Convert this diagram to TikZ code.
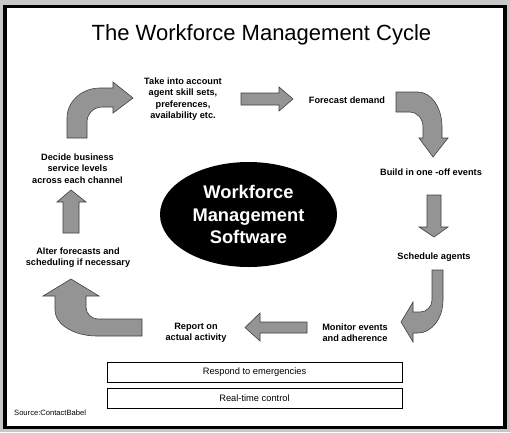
\documentclass[tikz,border=0pt]{standalone}
\usepackage{fontspec}
\setmainfont{Liberation Sans}
\usetikzlibrary{shapes.geometric}
\tikzset{
  x=1pt,y=1pt,
  arrowshape/.style={fill=black!42, draw=black!75, line width=0.6pt, line join=miter},
  lbl/.style={font=\fontsize{9.2}{11.3}\selectfont\bfseries, align=center, inner sep=0pt, text=black},
  barbox/.style={draw=black, line width=0.8pt, fill=white, minimum width=295pt, minimum height=20pt, inner sep=0pt, font=\fontsize{9.3}{11}\selectfont},
  hubshape/.style={ellipse, fill=black, minimum width=177pt, minimum height=105pt, inner sep=0pt, text=white, align=center, font=\fontsize{18.3}{22.5}\selectfont\bfseries},
}
\begin{document}
\begin{tikzpicture}
\useasboundingbox (0,0) rectangle (510,-432);
\fill[black!22] (0,0) rectangle (510,-432);
\draw[line width=3.5pt, fill=white] (5,-6.5) rectangle (505,-427.5);

\node[font=\fontsize{22}{26}\selectfont, inner sep=0pt] (title) at (261.5,-35) {The Workforce Management Cycle};

% centre ellipse
\node[hubshape] (hub) at (248.5,-214.5) {Workforce\\Management\\Software};

% labels
\node[lbl] (take) at (183,-99) {Take into account\\agent skill sets,\\preferences,\\availability etc.};
\node[lbl] (forecast) at (347,-100) {Forecast demand};
\node[lbl] (build) at (431,-172) {Build in one -off events};
\node[lbl] (schedule) at (434,-257) {Schedule agents};
\node[lbl] (monitor) at (355,-332.5) {Monitor events\\and adherence};
\node[lbl] (report) at (196,-332.5) {Report on\\actual activity};
\node[lbl] (alter) at (78,-257.5) {Alter forecasts and\\scheduling if necessary};
\node[lbl] (decide) at (77.5,-168.5) {Decide business\\service levels\\across each channel};

% arrow 1: bent up then right
\draw[arrowshape] (67,-138) -- (67,-118) arc[start angle=180, end angle=90, x radius=33, y radius=30]
  -- (113,-88) -- (113,-82) -- (133,-98) -- (113,-113) -- (113,-107) -- (102,-107)
  arc[start angle=90, end angle=180, x radius=15, y radius=15] -- (87,-138) -- cycle;

% arrow 2: straight right
\draw[arrowshape] (241,-93) -- (279,-93) -- (279,-87) -- (293,-99) -- (279,-111) -- (279,-105) -- (241,-105) -- cycle;

% arrow 3: right then bent down
\draw[arrowshape] (396,-92) -- (418,-92) arc[start angle=90, end angle=0, x radius=24, y radius=35]
  -- (442,-138) -- (448,-138) -- (433,-157) -- (419,-138) -- (423,-138) -- (423,-127)
  arc[start angle=0, end angle=90, x radius=13, y radius=15] -- (396,-112) -- cycle;

% arrow 4: straight down
\draw[arrowshape] (427,-195) -- (441,-195) -- (441,-227) -- (448,-227) -- (434,-237) -- (419,-227) -- (427,-227) -- cycle;

% arrow 5: down then bent left
\draw[arrowshape] (432,-270) -- (443,-270) -- (443,-300) arc[start angle=0, end angle=-90, x radius=25, y radius=33]
  -- (413,-333) -- (413,-342) -- (401,-322) -- (413,-302) -- (413,-312) -- (420,-312)
  arc[start angle=-90, end angle=0, x radius=12, y radius=12] -- cycle;

% arrow 6: straight left
\draw[arrowshape] (307,-322) -- (260,-322) -- (260,-313) -- (245,-327.5) -- (260,-341) -- (260,-333) -- (307,-333) -- cycle;

% arrow 7: left then bent up
\draw[arrowshape] (142,-319) -- (142,-336) -- (97,-336) arc[start angle=270, end angle=180, x radius=42, y radius=26]
  -- (55,-296) -- (43,-296) -- (71,-279) -- (99,-296) -- (86,-296) -- (86,-307)
  arc[start angle=180, end angle=270, x radius=12, y radius=12] -- cycle;

% arrow 8: straight up
\draw[arrowshape] (63,-233) -- (63,-202) -- (57,-202) -- (71,-190) -- (86,-202) -- (79,-202) -- (79,-233) -- cycle;

% bottom bars
\node[barbox] (respond) at (254.5,-372) {Respond to emergencies};
\node[barbox] (realtime) at (254.5,-398) {Real-time control};

\node[font=\fontsize{7.6}{9}\selectfont, anchor=west, inner sep=0pt] (source) at (14,-413) {Source:ContactBabel};
\end{tikzpicture}
\end{document}
